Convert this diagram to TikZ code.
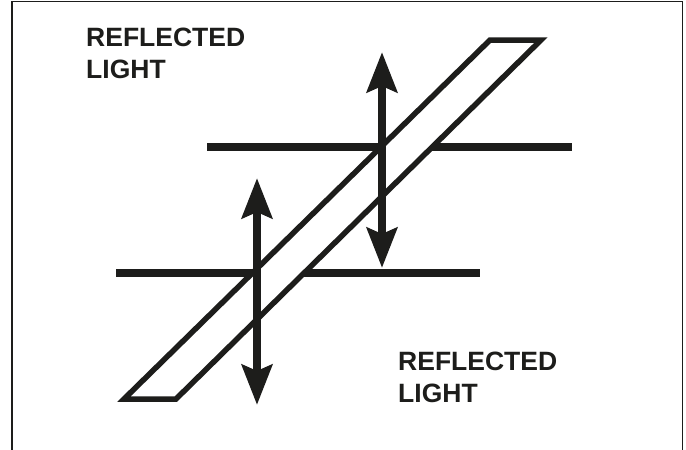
\documentclass[tikz,border=0pt]{standalone}
\usepackage{fontspec}
\setmainfont{Liberation Sans}
\usepackage{tikz}
\usetikzlibrary{arrows.meta,positioning}
\definecolor{inkBlack}{HTML}{1D1D1B}

\begin{document}
\begin{tikzpicture}[x=1pt,y=-1pt,
  label/.style={anchor=north west,inner sep=0pt,align=left,text=inkBlack,
    font=\fontsize{26.5}{32}\selectfont\bfseries},
  bar/.style={draw=inkBlack,line width=8.5pt},
  plate/.style={draw=inkBlack,fill=white,line width=5.5pt,line join=miter},
  ray/.style={draw=inkBlack,line width=8.5pt,
    {Stealth[length=40pt,width=30pt,inset=6pt]}-{Stealth[length=40pt,width=30pt,inset=6pt]}}]
\useasboundingbox (0,0) rectangle (686,450);
% --- frame ---
\draw[inkBlack,line width=1.4pt] (12,450) -- (12,1.5) -- (682.5,1.5) -- (682.5,450);
% --- surfaces ---
\coordinate (hiL) at (207,147);
\coordinate (hiR) at (572,147);
\coordinate (loL) at (116,273);
\coordinate (loR) at (480,273);
\draw[bar] (hiL) -- (hiR);
\draw[bar] (loL) -- (loR);
% --- tilted plate ---
\coordinate (pBL) at (124,399);
\coordinate (pBR) at (176,399);
\coordinate (pTR) at (541,40);
\coordinate (pTL) at (490,40);
\draw[plate] (pBL) -- (pBR) -- (pTR) -- (pTL) -- cycle;
% --- light rays ---
\coordinate (rayAtop) at (257,178);
\coordinate (rayAbot) at (257,405);
\coordinate (rayBtop) at (382,52);
\coordinate (rayBbot) at (382,268);
\draw[ray] (rayAtop) -- (rayAbot);
\draw[ray] (rayBtop) -- (rayBbot);
% --- labels ---
\node[label] (reflTop) at (86,28) {REFLECTED\\LIGHT};
\node[label] (reflBot) at (398,352) {REFLECTED\\LIGHT};
\end{tikzpicture}
\end{document}
